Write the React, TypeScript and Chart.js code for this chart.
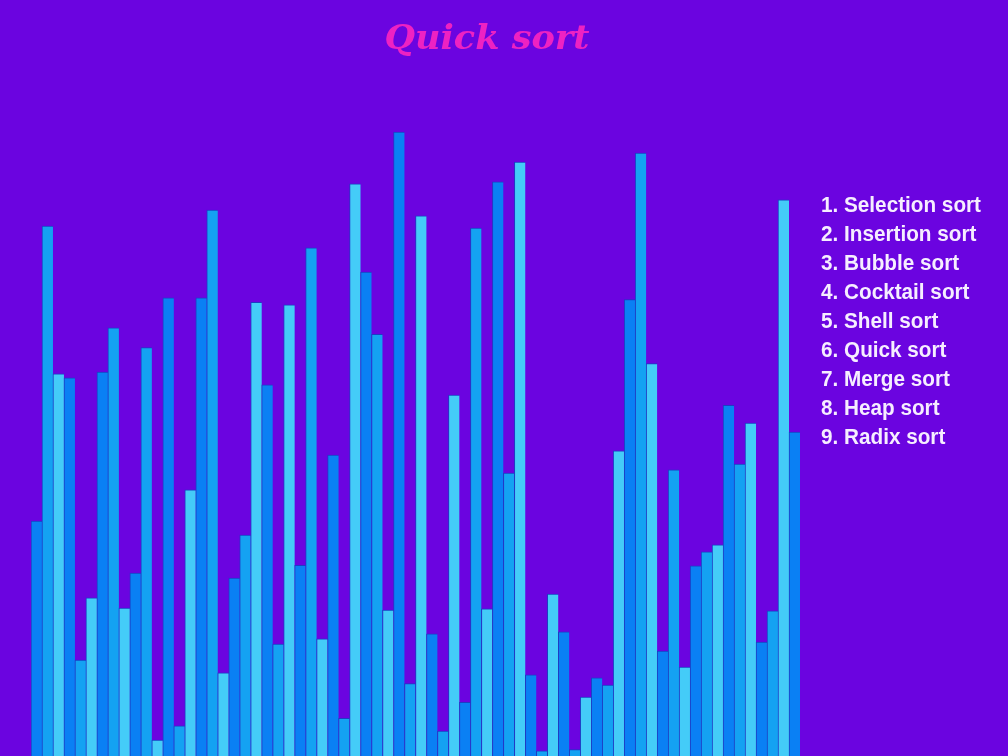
import React, { useEffect, useRef } from "react";
import { Chart, registerables } from "chart.js";

Chart.register(...registerables);

const TITLE = "Quick sort";

const LEGEND_ITEMS = [
  "1. Selection sort",
  "2. Insertion sort",
  "3. Bubble sort",
  "4. Cocktail sort",
  "5. Shell sort",
  "6. Quick sort",
  "7. Merge sort",
  "8. Heap sort",
  "9. Radix sort",
];

const VALUES = [
  36.7, 82.8, 59.7, 59.1, 15.0, 24.7, 60.0, 66.9, 23.1, 28.6,
  63.8, 2.5, 71.6, 4.7, 41.6, 71.6, 85.3, 13.0, 27.8, 34.5,
  70.9, 58.0, 17.5, 70.5, 29.8, 79.4, 18.3, 47.0, 5.9, 89.4,
  75.6, 65.9, 22.8, 97.5, 11.3, 84.4, 19.1, 3.9, 56.4, 8.4,
  82.5, 23.0, 89.7, 44.2, 92.8, 12.7, 0.8, 25.3, 19.4, 1.0,
  9.2, 12.2, 11.1, 47.7, 71.3, 94.2, 61.3, 16.4, 44.7, 13.9,
  29.7, 31.9, 33.0, 54.8, 45.6, 52.0, 17.8, 22.7, 86.9, 50.6,
];

const LABELS = VALUES.map((_, i) => String(i + 1));

const BAR_SHADES = ["#0a80f4", "#14a2f2", "#44ccf8"];

const BG = "#6b04e0";

const textPlugin = {
  id: "overlayText",
  beforeDraw(chart: any) {
    const { ctx, width, height } = chart;
    ctx.save();
    ctx.fillStyle = BG;
    ctx.fillRect(0, 0, width, height);
    ctx.restore();
  },
  afterDraw(chart: any) {
    const { ctx } = chart;
    ctx.save();
    ctx.fillStyle = "#ee22c2";
    ctx.font = "italic bold 34px 'DejaVu Serif', 'Liberation Serif', serif";
    ctx.textBaseline = "alphabetic";
    const tw = ctx.measureText(TITLE).width;
    const tScale = Math.min(1.05, Math.max(0.9, 205 / tw));
    ctx.translate(487, 49);
    ctx.scale(tScale, 1);
    ctx.textAlign = "center";
    ctx.fillText(TITLE, 0, 0);
    ctx.restore();

    ctx.save();
    ctx.fillStyle = "#f6eeff";
    ctx.font = "bold 22px 'Liberation Sans', Arial, sans-serif";
    ctx.textAlign = "left";
    ctx.textBaseline = "alphabetic";
    const lw = ctx.measureText(LEGEND_ITEMS[0]).width;
    const lScale = 160 / lw;
    LEGEND_ITEMS.forEach((t, i) => {
      ctx.save();
      ctx.translate(821, 212 + i * 29);
      ctx.scale(lScale, 1);
      ctx.fillText(t, 0, 0);
      ctx.restore();
    });
    ctx.restore();
  },
};

export default function App() {
  const ref = useRef<HTMLCanvasElement | null>(null);
  useEffect(() => {
    document.body.style.margin = "0";
    const c = ref.current;
    if (!c) return;
    const chart = new Chart(c, {
      type: "bar",
      data: {
        labels: LABELS,
        datasets: [
          {
            data: VALUES,
            backgroundColor: VALUES.map((_, i) => BAR_SHADES[i % 3]),
            borderColor: "#1e3cc4",
            borderWidth: { top: 1, left: 1, right: 0, bottom: 0 },
            borderSkipped: false,
            barPercentage: 1,
            categoryPercentage: 1,
          },
        ],
      },
      options: {
        animation: false,
        responsive: true,
        maintainAspectRatio: false,
        layout: { padding: { left: 31, right: 208, top: 116, bottom: 0 } },
        plugins: {
          legend: { display: false },
          title: { display: false },
          tooltip: { enabled: false },
        },
        scales: {
          x: { display: false, grid: { display: false } },
          y: { display: false, min: 0, max: 100, grid: { display: false } },
        },
      },
      plugins: [textPlugin],
    });
    return () => chart.destroy();
  }, []);
  return (
    <div style={{ position: "fixed", left: 0, top: 0, width: 1008, height: 756, background: BG }}>
      <canvas ref={ref} />
    </div>
  );
}
